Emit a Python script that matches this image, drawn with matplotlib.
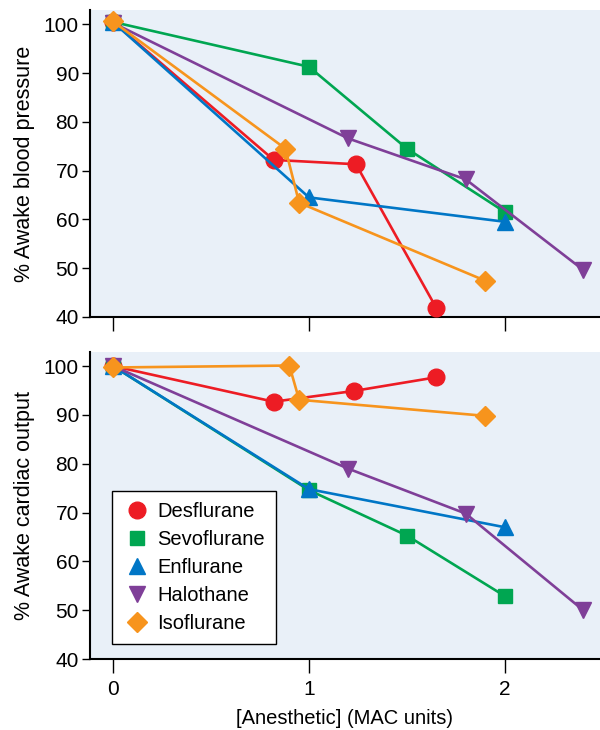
import matplotlib
matplotlib.use('Agg')
import matplotlib.pyplot as plt

plt.rcParams['font.family'] = ['Liberation Sans', 'DejaVu Sans']

names = ['Desflurane', 'Sevoflurane', 'Enflurane', 'Halothane', 'Isoflurane']
colors = ['#ed1c24', '#00a651', '#0076c6', '#7f3f98', '#f7941d']
markers = ['o', 's', '^', 'v', 'D']
msizes = [12, 10, 12, 12, 10]

# blood pressure panel
bp_x = [
    [0, 0.82, 1.24, 1.65],
    [0, 1.0, 1.5, 2.0],
    [0, 1.0, 2.0],
    [0, 1.2, 1.8, 2.4],
    [0, 0.88, 0.95, 1.9],
]
bp_y = [
    [100.5, 72.2, 71.3, 41.8],
    [100.5, 91.3, 74.5, 61.5],
    [100.5, 64.5, 59.5],
    [100.3, 76.6, 68.2, 49.6],
    [100.6, 74.5, 63.4, 47.4],
]

# cardiac output panel
co_x = [
    [0, 0.82, 1.23, 1.65],
    [0, 1.0, 1.5, 2.0],
    [0, 1.0, 2.0],
    [0, 1.2, 1.8, 2.4],
    [0, 0.9, 0.95, 1.9],
]
co_y = [
    [100, 92.7, 94.9, 97.7],
    [100, 74.6, 65.3, 52.9],
    [100, 74.8, 67.0],
    [100, 79.0, 69.8, 50.0],
    [99.7, 100.1, 93.1, 89.8],
]

fig = plt.figure(figsize=(6, 7.3), dpi=100)
ax1 = fig.add_axes([0.15, 0.566, 0.85, 0.42])
ax2 = fig.add_axes([0.15, 0.097, 0.85, 0.421])

bg = '#e9f0f8'
for ax, xs, ys in [(ax1, bp_x, bp_y), (ax2, co_x, co_y)]:
    ax.set_facecolor(bg)
    for i in range(len(names)):
        ax.plot(xs[i], ys[i], color=colors[i], lw=1.9, marker=markers[i],
                ms=msizes[i], mec=colors[i], label=names[i], zorder=3)
    ax.set_xlim(-0.117, 2.485)
    ax.set_ylim(40, 102.9)
    ax.set_yticks([40, 50, 60, 70, 80, 90, 100])
    ax.set_xticks([0, 1, 2])
    for s in ['top', 'right']:
        ax.spines[s].set_visible(False)
    for s in ['left', 'bottom']:
        ax.spines[s].set_linewidth(1.5)
    ax.tick_params(axis='y', length=6, width=1, labelsize=15, pad=2)
    ax.tick_params(axis='x', length=10, width=1, labelsize=15, pad=5)

ax1.set_xticklabels([])
ax1.set_ylabel('% Awake blood pressure', fontsize=15.5, labelpad=6)
ax2.set_ylabel('% Awake cardiac output', fontsize=15.5, labelpad=6)
ax2.set_xlabel('[Anesthetic] (MAC units)', fontsize=14.5, labelpad=7)

handles = [plt.Line2D([], [], ls='none', marker=markers[i], color=colors[i],
                      ms=msizes[i]) for i in range(len(names))]
leg = ax2.legend(handles, names, loc='lower left', bbox_to_anchor=(0.043, 0.049),
                 fontsize=14.5, frameon=True, fancybox=False, edgecolor='black',
                 facecolor='white', framealpha=1, handletextpad=0.3,
                 labelspacing=0.45, borderpad=0.55, handlelength=1.4,
                 borderaxespad=0)
leg.get_frame().set_linewidth(1)

fig.savefig('out.png', dpi=100)
